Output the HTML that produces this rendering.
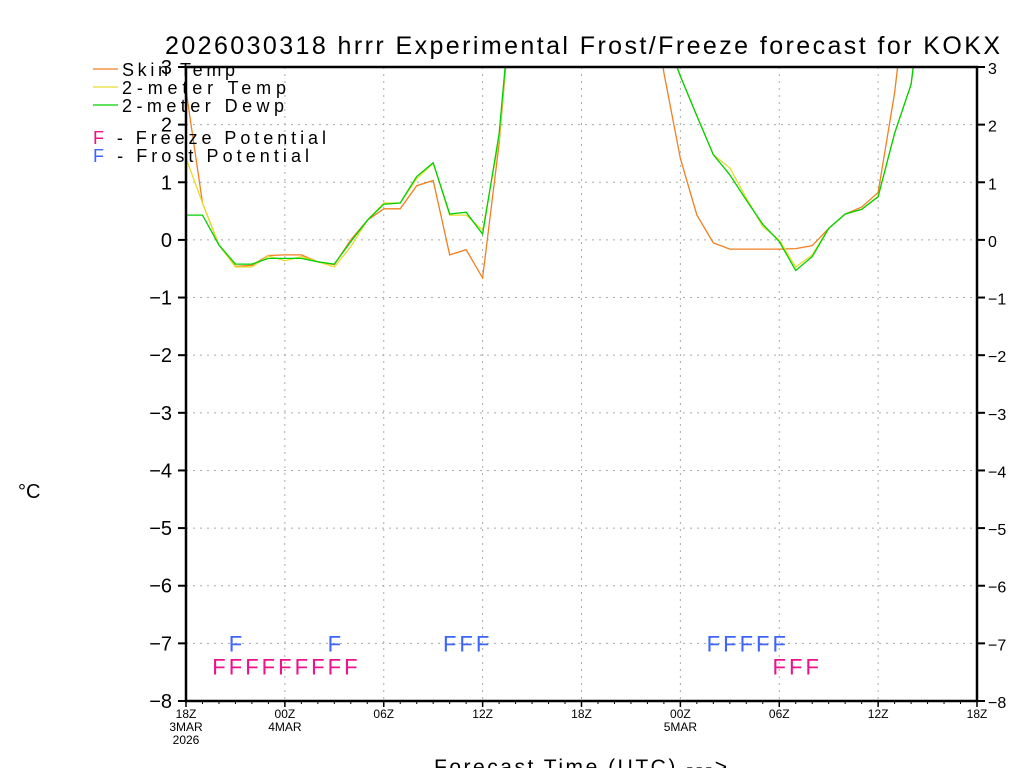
<!DOCTYPE html>
<html><head><meta charset="utf-8"><style>
html,body{margin:0;padding:0;background:#fff;}
svg{display:block;font-family:"Liberation Sans",sans-serif;}
</style></head><body>
<svg id="chart" width="1024" height="768" viewBox="0 0 1024 768" xmlns="http://www.w3.org/2000/svg">
<defs><clipPath id="plotclip"><rect x="186" y="67" width="791" height="634"/></clipPath></defs>
<text x="165" y="54" font-size="25" textLength="835" lengthAdjust="spacing" fill="#000">2026030318 hrrr Experimental Frost/Freeze forecast for KOKX</text>
<g id="grid"></g>
<g id="series" clip-path="url(#plotclip)"></g>
<g id="marks"></g>
<g id="axes"></g>
<g font-size="18">
 <line x1="93" y1="69" x2="118" y2="69" stroke="#f08020" stroke-width="1.2"/>
 <text x="122" y="76" textLength="113" lengthAdjust="spacing">Skin Temp</text>
 <line x1="93" y1="87" x2="118" y2="87" stroke="#e6dc32" stroke-width="1.2"/>
 <text x="122" y="94" textLength="164" lengthAdjust="spacing">2-meter Temp</text>
 <line x1="93" y1="105" x2="118" y2="105" stroke="#00d000" stroke-width="1.2"/>
 <text x="122" y="112" textLength="162" lengthAdjust="spacing">2-meter Dewp</text>
 <text x="93" y="144" textLength="233" lengthAdjust="spacing"><tspan fill="#f0108c">F</tspan> - Freeze Potential</text>
 <text x="93" y="162" textLength="216" lengthAdjust="spacing"><tspan fill="#3c64ff">F</tspan> - Frost Potential</text>
</g>
<text x="18" y="498" font-size="20">°C</text>
<text x="434" y="774" font-size="21" textLength="293" lengthAdjust="spacing">Forecast Time (UTC) ---&gt;</text>
</svg>
<script>
const hours = [];
for (let i = 0; i <= 48; i++) hours.push(i);
const skinTemp = [2.6,0.64,-0.09,-0.46,-0.44,-0.27,-0.26,-0.26,-0.38,-0.43,0.0,0.34,0.54,0.54,0.94,1.03,-0.26,-0.17,-0.66,1.67,5,5,5,5,5,5,5,5,5,2.9,1.41,0.43,-0.05,-0.16,-0.16,-0.16,-0.16,-0.15,-0.1,0.2,0.45,0.57,0.82,2.55,5,5,5,5,5];
const temp2m = [1.42,0.64,-0.09,-0.47,-0.47,-0.28,-0.36,-0.29,-0.38,-0.47,-0.12,0.34,0.64,0.64,1.06,1.33,0.43,0.43,0.17,1.75,5,5,5,5,5,5,5,5,5,3.6,2.84,2.15,1.48,1.25,0.73,0.23,0.0,-0.47,-0.26,0.2,0.45,0.53,0.75,1.85,2.7,5,5,5,5];
const dewp2m = [0.43,0.43,-0.09,-0.42,-0.42,-0.32,-0.32,-0.32,-0.38,-0.42,-0.03,0.34,0.62,0.64,1.1,1.34,0.45,0.48,0.10,1.84,5,5,5,5,5,5,5,5,5,3.6,2.84,2.15,1.48,1.13,0.69,0.27,-0.03,-0.53,-0.29,0.2,0.45,0.53,0.75,1.85,2.7,5,5,5,5];
const freezeHours = [2,3,4,5,6,7,8,9,10,36,37,38];
const frostHours = [3,9,16,17,18,32,33,34,35,36];
const yTicks = [-8,-7,-6,-5,-4,-3,-2,-1,0,1,2,3];
const xTickHours = [0,6,12,18,24,30,36,42,48];
const xTickLabels = ["18Z","00Z","06Z","12Z","18Z","00Z","06Z","12Z","18Z"];
const xTickDates = ["3MAR","4MAR","","","","5MAR","","",""];

const L=186,R=977,T=67,B=701;
const xs = h => L + (R-L)*h/48;
const ys = v => B - (B-T)*(v+8)/11;
const NS="http://www.w3.org/2000/svg";
function mk(tag, attrs, parent){const e=document.createElementNS(NS,tag);for(const k in attrs)e.setAttribute(k,attrs[k]);parent.appendChild(e);return e;}
const grid=document.getElementById('grid'), axes=document.getElementById('axes'), series=document.getElementById('series'), marks=document.getElementById('marks');

yTicks.forEach(v=>{
  const y=ys(v);
  if(v>-8&&v<3){const g=mk('line',{x1:L,x2:R,y1:y,y2:y,stroke:'#aaa','stroke-width':1,'stroke-dasharray':'2,5'},grid);
  
  }
  mk('line',{x1:L-8,x2:L,y1:y,y2:y,stroke:'#000','stroke-width':2},axes);
  mk('line',{x1:R,x2:R+8,y1:y,y2:y,stroke:'#000','stroke-width':2},axes);
  const t1=mk('text',{x:L-14,y:y+7,'font-size':20,'text-anchor':'end'},axes);t1.textContent=String(v).replace('-','\u2212');
  
  
  const t2=mk('text',{x:R+11,y:y+7,'font-size':16},axes);t2.textContent=String(v).replace('-','\u2212');
  
  
});
xTickHours.forEach((h,i)=>{
  const x=xs(h);
  if(h>0&&h<48){const g=mk('line',{x1:x,x2:x,y1:T,y2:B,stroke:'#aaa','stroke-width':1,'stroke-dasharray':'2,5'},grid);
  
  }
  mk('line',{x1:x,x2:x,y1:B,y2:B+6,stroke:'#000','stroke-width':1.5},axes);
  const t=mk('text',{x:x,y:B+17,'font-size':12,'text-anchor':'middle'},axes);t.textContent=xTickLabels[i];
  
  
  if(xTickDates[i]){const d=mk('text',{x:x,y:B+30,'font-size':12,'text-anchor':'middle'},axes);d.textContent=xTickDates[i];
  
  }
});
const yr=mk('text',{x:xs(0),y:B+43,'font-size':12,'text-anchor':'middle'},axes);yr.textContent='2026';


for(let h=1;h<48;h++){mk('line',{x1:xs(h),x2:xs(h),y1:B,y2:B+3,stroke:'#000','stroke-width':1},axes);}
const frame=mk('rect',{x:L,y:T,width:R-L,height:B-T,fill:'none',stroke:'#000','stroke-width':2.5},axes);



function drawLine(vals,color,name){
  const d=vals.map((v,i)=>(i?'L':'M')+xs(hours[i]).toFixed(1)+','+ys(v).toFixed(1)).join(' ');
  const p=mk('path',{d:d,fill:'none',stroke:color,'stroke-width':1.3},series);
  
  
}
drawLine(skinTemp,'#f08020','skin-temp-line');
drawLine(temp2m,'#e6dc32','2m-temp-line');
drawLine(dewp2m,'#00d000','2m-dewp-line');

freezeHours.forEach(h=>{const t=mk('text',{x:xs(h),y:ys(-7.4)+8,'font-size':22,'text-anchor':'middle',fill:'#f0108c'},marks);t.textContent='F';
  
  });
frostHours.forEach(h=>{const t=mk('text',{x:xs(h),y:ys(-7)+8,'font-size':22,'text-anchor':'middle',fill:'#3c64ff'},marks);t.textContent='F';
  
  });
</script>
</body></html>
